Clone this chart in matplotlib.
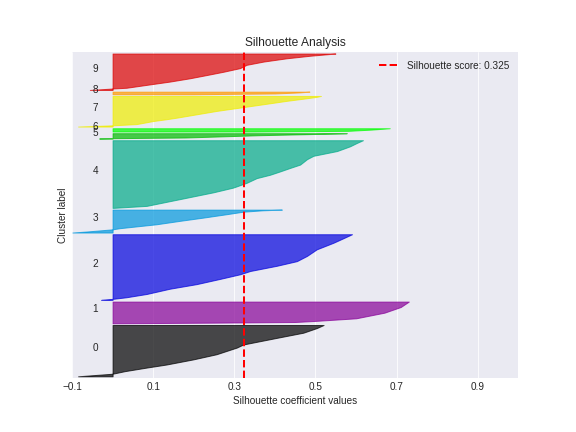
import matplotlib
matplotlib.use('Agg')
import matplotlib.pyplot as plt
import matplotlib.cm as cm
import numpy as np

# cluster sizes (samples per cluster)
sizes = [300, 127, 384, 134, 396, 31, 19, 179, 15, 213]
score = 0.325

# sorted silhouette profile per cluster: fraction of cluster height -> value
c0_pos = [0.0, 0.05, 0.10, 0.17, 0.23, 0.33, 0.43, 0.56, 0.62, 0.75, 0.85, 0.94, 1.0]
c0_val = [-0.085, 0.0, 0.03, 0.084, 0.133, 0.199, 0.256, 0.306, 0.322, 0.405, 0.47, 0.503, 0.52]
c1_pos = [0.0, 0.03, 0.06, 0.11, 0.23, 0.49, 0.75, 1.0]
c1_val = [0.01, 0.25, 0.45, 0.50, 0.60, 0.67, 0.71, 0.73]
c2_pos = [0.0, 0.015, 0.04, 0.09, 0.17, 0.24, 0.32, 0.39, 0.44, 0.52, 0.59, 0.67, 0.77, 0.87, 0.94, 1.0]
c2_val = [-0.028, 0.0, 0.034, 0.084, 0.141, 0.207, 0.265, 0.314, 0.339, 0.405, 0.454, 0.479, 0.503, 0.544, 0.569, 0.59]
c3_pos = [0.0, 0.05, 0.14, 0.19, 0.36, 0.51, 0.65, 0.80, 0.91, 0.97, 1.0]
c3_val = [-0.099, -0.06, 0.0, 0.018, 0.108, 0.166, 0.223, 0.281, 0.322, 0.37, 0.417]
c4_pos = [0.0, 0.03, 0.08, 0.13, 0.18, 0.23, 0.30, 0.37, 0.44, 0.49, 0.54, 0.59, 0.64, 0.72, 0.77, 0.84, 0.91, 0.96, 1.0]
c4_val = [0.0, 0.084, 0.125, 0.166, 0.207, 0.248, 0.297, 0.33, 0.355, 0.388, 0.413, 0.437, 0.462, 0.479, 0.495, 0.553, 0.585, 0.602, 0.617]
c5_pos = [0.0, 0.06, 0.19, 0.62, 0.94, 1.0]
c5_val = [-0.033, 0.0, 0.18, 0.36, 0.55, 0.577]
c6_pos = [0.0, 0.2, 0.6, 1.0]
c6_val = [0.35, 0.58, 0.64, 0.683]
c7_pos = [0.0, 0.04, 0.08, 0.18, 0.24, 0.29, 0.40, 0.51, 0.62, 0.73, 0.84, 0.91, 0.97, 1.0]
c7_val = [-0.085, 0.0, 0.059, 0.10, 0.133, 0.158, 0.207, 0.256, 0.314, 0.372, 0.429, 0.47, 0.503, 0.513]
c8_pos = [0.0, 0.3, 0.7, 1.0]
c8_val = [0.20, 0.40, 0.46, 0.485]
c9_pos = [0.0, 0.04, 0.06, 0.14, 0.23, 0.32, 0.41, 0.50, 0.60, 0.69, 0.78, 0.87, 0.94, 0.98, 1.0]
c9_val = [-0.056, 0.0, 0.034, 0.084, 0.141, 0.19, 0.232, 0.273, 0.314, 0.33, 0.372, 0.429, 0.487, 0.528, 0.549]

profiles = [(c0_pos, c0_val), (c1_pos, c1_val), (c2_pos, c2_val), (c3_pos, c3_val),
            (c4_pos, c4_val), (c5_pos, c5_val), (c6_pos, c6_val), (c7_pos, c7_val),
            (c8_pos, c8_val), (c9_pos, c9_val)]

plt.style.use('seaborn-v0_8-darkgrid')
plt.rcParams['font.family'] = ['Liberation Sans', 'DejaVu Sans']

n_clusters = len(sizes)
fig = plt.figure(figsize=(8, 6), dpi=72)
ax = fig.add_axes([0.125, 0.125, 0.775, 0.755])

y_lower = 10
for i in range(n_clusters):
    pos, val = profiles[i]
    size = sizes[i]
    y = y_lower + np.array(pos) * size
    color = cm.nipy_spectral(float(i) / n_clusters)
    ax.fill_betweenx(y, 0, val, facecolor=color, edgecolor=color, alpha=0.7)
    ax.text(-0.05, y_lower + 0.5 * size, str(i), color='.15')  # cluster number
    y_lower = y_lower + size + 10

ax.axvline(x=score, color='red', linestyle='--', linewidth=2,
           label='Silhouette score: %.3f' % score)
ax.set_xlim(-0.1, 1)
ax.set_ylim(0, sum(sizes) + (n_clusters + 1) * 10)
ax.set_yticks([])
ax.set_xticks([-0.1, 0.1, 0.3, 0.5, 0.7, 0.9])
ax.set_title('Silhouette Analysis')
ax.set_xlabel('Silhouette coefficient values')
ax.set_ylabel('Cluster label')
ax.legend(loc='upper right', frameon=False)

fig.savefig('out.png', dpi=72)
